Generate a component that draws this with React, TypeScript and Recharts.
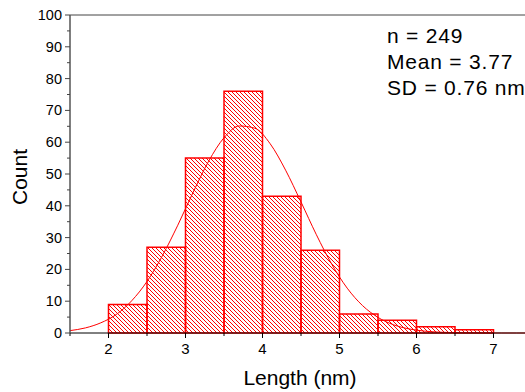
import React from 'react';
import {
  ComposedChart,
  Line,
  XAxis,
  YAxis,
  ReferenceArea,
  ReferenceLine
} from 'recharts';

// histogram bins (nm) and counts
const binEdges = [2, 2.5, 3, 3.5, 4, 4.5, 5, 5.5, 6, 6.5, 7];
const counts = [9, 27, 55, 76, 43, 26, 6, 4, 2, 1];

// gaussian fit curve
const fitX = [1.5, 1.7, 1.9, 2.1, 2.3, 2.5, 2.7, 2.9, 3.1, 3.3, 3.5, 3.7, 3.9, 4.1, 4.3, 4.5,
  4.7, 4.9, 5.1, 5.3, 5.5, 5.7, 5.9, 6.1, 6.3, 6.5, 6.7, 6.9, 7.1, 7.3, 7.5];
const fitY = [0.75, 1.6, 3.2, 5.8, 10.1, 16.2, 24.3, 33.9, 44.3, 54.0, 61.4, 65.1, 64.4, 59.5, 51.2, 41.2,
  30.9, 21.6, 14.1, 8.6, 4.9, 2.6, 1.3, 0.6, 0.26, 0.1, 0.04, 0.01, 0, 0, 0];

const xTicks = [1.5, 2, 2.5, 3, 3.5, 4, 4.5, 5, 5.5, 6, 6.5, 7, 7.5];
const yTicks = [0, 5, 10, 15, 20, 25, 30, 35, 40, 45, 50, 55, 60, 65, 70, 75, 80, 85, 90, 95, 100];

const statLines = ['n = 249', 'Mean = 3.77', 'SD = 0.76 nm'];

const FONT = '"Liberation Sans", Arial, sans-serif';
const RED = '#ff0000';

const curveData = fitX.map((x, i) => ({ x, y: fitY[i] }));

const YTick = (props: any) => {
  const { x, y, payload } = props;
  const major = payload.value % 10 === 0;
  return (
    <g>
      <line x1={x} x2={x - (major ? 5 : 3)} y1={y} y2={y} stroke="#444" strokeWidth={1} />
      {major && (
        <text x={x - 8} y={y} textAnchor="end" dominantBaseline="central"
          fontSize={14.5} fontFamily={FONT} fill="#000">
          {payload.value}
        </text>
      )}
    </g>
  );
};

const XTick = (props: any) => {
  const { x, y, payload } = props;
  const major = Number.isInteger(payload.value);
  return (
    <g>
      <line x1={x} x2={x} y1={y} y2={y + (major ? 5 : 3)} stroke="#000" strokeWidth={1} />
      {major && (
        <text x={x} y={y + 21} textAnchor="middle" fontSize={15} fontFamily={FONT} fill="#000">
          {payload.value}
        </text>
      )}
    </g>
  );
};

const App: React.FC = () => {
  return (
    <div style={{ position: 'absolute', left: 0, top: 0, width: 525, height: 392, overflow: 'hidden', background: '#fff' }}>
      <ComposedChart
        width={545}
        height={392}
        data={curveData}
        margin={{ top: 15, right: 13, bottom: 0, left: 0 }}
      >
        <defs>
          <pattern id="hatch" patternUnits="userSpaceOnUse" width="4" height="4">
            <path d="M-1,-1 L5,5 M3,-1 L5,1 M-1,3 L1,5" stroke={RED} strokeWidth={1} />
          </pattern>
        </defs>
        <XAxis
          dataKey="x"
          type="number"
          domain={[1.5, 7.5]}
          ticks={xTicks}
          interval={0}
          height={59}
          tickSize={0}
          tickMargin={0}
          tickLine={false}
          axisLine={{ stroke: '#000', strokeWidth: 1 }}
          tick={<XTick />}
          label={{
            content: () => (
              <text x={300} y={385} textAnchor="middle" fontSize={21} fontFamily={FONT} fill="#000">
                Length (nm)
              </text>
            )
          }}
        />
        <YAxis
          type="number"
          domain={[0, 100]}
          ticks={yTicks}
          interval={0}
          width={70}
          tickSize={0}
          tickMargin={0}
          tickLine={false}
          axisLine={{ stroke: '#555', strokeWidth: 1.5 }}
          tick={<YTick />}
          label={{
            content: () => (
              <text x={19} y={177} transform="rotate(-90 19 177)" textAnchor="middle"
                dominantBaseline="central" fontSize={21} fontFamily={FONT} fill="#000">
                Count
              </text>
            )
          }}
        />
        <ReferenceLine y={100} stroke="#444" strokeWidth={1} />
        {counts.map((c, i) => (
          <ReferenceArea
            key={i}
            x1={binEdges[i]}
            x2={binEdges[i + 1]}
            y1={0}
            y2={c}
            fill="url(#hatch)"
            fillOpacity={1}
            stroke={RED}
            strokeWidth={1.5}
          />
        ))}
        <Line
          dataKey="y"
          type="monotone"
          stroke={RED}
          strokeWidth={1}
          dot={false}
          activeDot={false}
          isAnimationActive={false}
        />
        <g>
          {statLines.map((s, i) => (
            <text key={s} x={387} y={43 + i * 26} fontSize={21} letterSpacing={0.8}
              fontFamily={FONT} fill="#000">
              {s}
            </text>
          ))}
        </g>
      </ComposedChart>
    </div>
  );
};

export default App;
